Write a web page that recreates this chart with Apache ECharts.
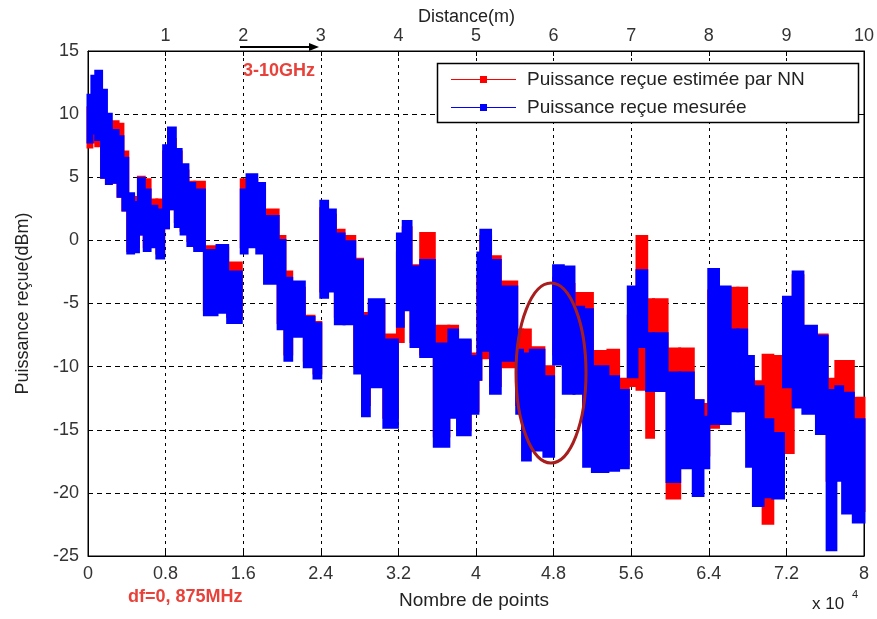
<!DOCTYPE html>
<html><head><meta charset="utf-8">
<script src="https://cdn.jsdelivr.net/npm/echarts@6/dist/echarts.min.js"></script>
<style>html,body{margin:0;padding:0;background:#fff}#c{width:877px;height:619px}</style>
</head><body><div id="c"></div>
<script>
// segment edges along "Nombre de points" (x 10^4)
const xEdges = [0,0.04,0.08,0.14,0.19,0.24,0.31,0.36,0.41,0.47,0.52,0.58,0.64,0.71,0.78,0.83,0.90,0.96,1.03,1.10,1.20,1.33,1.44,1.58,1.64,1.74,1.82,1.96,2.03,2.10,2.23,2.33,2.40,2.47,2.55,2.64,2.75,2.83,2.90,3.05,3.19,3.25,3.33,3.43,3.57,3.72,3.81,3.94,4.02,4.05,4.15,4.25,4.42,4.48,4.56,4.70,4.80,4.90,5.01,5.11,5.20,5.36,5.47,5.57,5.66,5.76,5.83,5.97,6.10,6.24,6.34,6.40,6.50,6.62,6.70,6.79,6.86,6.96,7.06,7.17,7.27,7.37,7.51,7.62,7.71,7.78,7.89,8.00];
// measured (blue) envelope, dBm
const blueHi = [11.5,13.0,13.4,11.9,10.0,8.7,8.2,6.5,3.7,3.0,4.9,4.0,2.7,2.4,7.5,8.9,7.2,6.0,4.5,4.0,-0.8,-0.4,-2.5,4.0,5.2,4.5,1.9,0.0,-3.0,-3.3,-6.1,-6.6,3.1,2.4,0.5,-0.1,-1.6,-6.0,-4.7,-7.9,0.5,1.5,-2.1,-1.6,-8.2,-7.1,-7.9,-9.2,-1.0,0.8,-1.6,-3.7,-8.7,-9.0,-8.7,-10.8,-2.0,-2.1,-5.3,-5.5,-10.0,-10.8,-11.9,-3.7,-2.4,-7.4,-7.4,-10.5,-10.5,-12.7,-14.0,-2.3,-3.7,-7.1,-7.1,-9.2,-11.6,-14.2,-15.3,-4.5,-2.5,-6.8,-7.6,-11.9,-11.6,-12.1,-14.2];
const blueLo = [7.8,8.5,8.0,5.0,4.5,4.6,3.5,2.4,-1.0,-0.9,0.5,-0.8,-0.5,-1.4,1.0,2.5,1.1,0.5,-0.4,-0.8,-5.9,-5.7,-6.5,-1.0,-0.5,-1.0,-3.4,-7.0,-9.5,-7.6,-10.0,-10.9,-4.5,-4.0,-6.6,-6.6,-10.5,-13.9,-11.6,-14.8,-6.8,-5.5,-8.4,-9.2,-16.3,-14.0,-15.4,-13.7,-11.0,-8.7,-12.1,-9.5,-13.7,-17.4,-16.6,-17.1,-9.8,-12.1,-12.1,-17.9,-18.3,-18.2,-18.0,-10.8,-8.4,-11.9,-11.9,-19.1,-18.0,-20.2,-18.0,-14.5,-14.5,-13.5,-13.5,-17.9,-21.0,-20.3,-20.4,-11.6,-13.2,-13.7,-15.3,-24.5,-19.0,-21.6,-22.3];
// NN estimate (red) envelope, dBm
const redHi = [10.5,10.3,10.0,9.0,8.8,9.4,9.2,7.0,3.5,3.4,5.0,4.8,3.2,3.2,7.0,8.0,7.0,5.5,4.6,4.6,-0.5,-0.6,-1.8,4.8,4.8,4.0,2.4,0.3,-2.5,-3.8,-6.0,-6.5,2.5,2.0,0.8,0.3,-1.5,-5.8,-5.0,-7.5,-1.0,1.0,-2.0,0.55,-6.8,-6.8,-8.0,-9.0,-3.0,0.3,-1.3,-3.3,-7.1,-7.1,-8.5,-10.0,-3.0,-3.5,-4.2,-4.2,-8.8,-8.7,-11.0,-6.0,0.3,-4.7,-4.7,-8.6,-8.6,-12.7,-13.0,-4.0,-6.0,-3.8,-3.8,-11.0,-11.2,-9.1,-9.2,-5.0,-2.8,-7.9,-7.5,-11.0,-9.6,-9.6,-12.5];
const redLo = [7.4,7.8,7.5,5.0,4.5,4.6,3.5,2.4,-0.8,-0.5,0.5,-0.5,-0.3,-1.0,1.0,2.5,1.5,0.8,0.0,-0.5,-5.5,-5.4,-6.0,-0.5,0.0,-0.5,-3.0,-6.5,-9.0,-7.5,-9.5,-10.5,-4.0,-3.5,-6.0,-6.3,-10.0,-13.0,-11.0,-14.0,-8.0,-5.0,-8.0,-9.0,-15.5,-13.5,-15.0,-13.5,-11.0,-9.3,-11.5,-10.0,-13.0,-15.0,-15.0,-14.0,-9.0,-10.0,-11.0,-15.0,-16.0,-17.6,-17.7,-11.5,-11.8,-15.6,-11.5,-20.4,-17.0,-17.0,-17.0,-14.8,-13.0,-11.0,-12.0,-15.0,-17.0,-22.4,-18.5,-16.8,-13.0,-13.0,-14.0,-19.0,-18.0,-16.0,-21.4];

const legendNames = ['Puissance reçue estimée par NN', 'Puissance reçue mesurée'];
const FONT = 'Liberation Sans, Arial, sans-serif';

function segData(hi, lo) {
  return hi.map((h, i) => [xEdges[i], xEdges[i + 1], lo[i], h]);
}
function bandSeries(name, color, hi, lo) {
  return {
    type: 'custom', name: name, xAxisIndex: 0, yAxisIndex: 0,
    data: segData(hi, lo),
    encode: { x: [0, 1], y: [2, 3] },
    itemStyle: { color: color },
    renderItem: function (params, api) {
      const a = api.coord([api.value(0), api.value(3)]);
      const b = api.coord([api.value(1), api.value(2)]);
      return { type: 'rect', shape: { x: a[0], y: a[1], width: b[0] - a[0], height: b[1] - a[1] },
        style: { fill: color, stroke: color, lineWidth: 3 } };
    }
  };
}
const fmt = v => String(Number(v.toFixed(2)));
const chart = echarts.init(document.getElementById('c'), null, { renderer: 'canvas' });
const LEGEND_ICON = 'path://M0,4.5 L65,4.5 L65,5.5 L0,5.5 Z M29,1.5 L36,1.5 L36,8.5 L29,8.5 Z';
chart.setOption({
  animation: false,
  backgroundColor: '#fff',
  grid: { left: 88, right: 11, top: 51, bottom: 63, show: true, borderColor: '#000', borderWidth: 1, backgroundColor: 'transparent' },
  legend: {
    data: [{ name: legendNames[0], icon: LEGEND_ICON }, { name: legendNames[1], icon: LEGEND_ICON }],
    orient: 'vertical', left: 451, top: 70, itemWidth: 65, itemHeight: 7, itemGap: 9,
    padding: 0, z: 20,
    textStyle: { fontFamily: FONT, fontSize: 19, color: '#222', padding: [0, 0, 0, 6] }
  },
  xAxis: [
    { type: 'value', min: 0, max: 8, interval: 0.8, position: 'bottom',
      name: 'Nombre de points', nameLocation: 'middle', nameGap: 35,
      nameTextStyle: { fontFamily: FONT, fontSize: 19, color: '#222', padding: [0, 4, 0, 0] },
      axisLine: { show: true, onZero: false, lineStyle: { color: '#000' } },
      axisTick: { show: true, inside: true, length: 5, lineStyle: { color: '#000' } },
      axisLabel: { formatter: fmt, fontFamily: FONT, fontSize: 18, color: '#333', margin: 9 },
      splitLine: { show: true, lineStyle: { color: '#000', type: [3, 4], width: 1 } } },
    { type: 'value', min: 0, max: 10, interval: 1, position: 'top',
      axisLine: { show: true, onZero: false, lineStyle: { color: '#000' } },
      axisTick: { show: true, inside: true, length: 5, lineStyle: { color: '#000' } },
      axisLabel: { formatter: v => v === 0 ? '' : String(v), fontFamily: FONT, fontSize: 18, color: '#333', margin: 6 },
      splitLine: { show: false } }
  ],
  yAxis: [
    { type: 'value', min: -25, max: 15, interval: 5, position: 'left',
      name: 'Puissance reçue(dBm)', nameLocation: 'middle', nameGap: 56,
      nameTextStyle: { fontFamily: FONT, fontSize: 18, color: '#222' },
      axisLine: { show: true, onZero: false, lineStyle: { color: '#000' } },
      axisTick: { show: true, inside: true, length: 5, lineStyle: { color: '#000' } },
      axisLabel: { fontFamily: FONT, fontSize: 18, color: '#333', margin: 9 },
      splitLine: { show: true, lineStyle: { color: '#000', type: [5, 4], width: 1 } } },
    { type: 'value', min: -25, max: 15, interval: 5, position: 'right',
      axisLine: { show: true, onZero: false, lineStyle: { color: '#000' } },
      axisTick: { show: true, inside: true, length: 5, lineStyle: { color: '#000' } },
      axisLabel: { show: false }, splitLine: { show: false } }
  ],
  series: [
    bandSeries(legendNames[0], '#ff0000', redHi, redLo),
    bandSeries(legendNames[1], '#0000ff', blueHi, blueLo)
  ],
  graphic: [
    { type: 'rect', shape: { x: 437.5, y: 63.5, width: 421, height: 59 }, style: { fill: '#fff', stroke: '#000', lineWidth: 1.5 }, z: 10 },
    { type: 'ellipse', shape: { cx: 551, cy: 373, rx: 35, ry: 90 }, style: { fill: 'none', stroke: '#a81e1e', lineWidth: 3 }, z: 100 },
    { type: 'line', shape: { x1: 240, y1: 47, x2: 314, y2: 47 }, style: { stroke: '#000', lineWidth: 2 }, z: 100 },
    { type: 'polygon', shape: { points: [[319, 47], [309, 43], [309, 51]] }, style: { fill: '#000' }, z: 100 },
    { type: 'text', left: 418, top: 8, style: { text: 'Distance(m)', fill: '#222', font: '18px ' + FONT }, z: 100 },
    { type: 'text', left: 243, top: 62, style: { text: '3-10GHz', fill: '#e8413a', font: 'bold 18px ' + FONT }, z: 100 },
    { type: 'text', left: 128, top: 588, style: { text: 'df=0, 875MHz', fill: '#e8413a', font: 'bold 18px ' + FONT }, z: 100 },
    { type: 'text', left: 812, top: 596, style: { text: 'x 10', fill: '#222', font: '17px ' + FONT }, z: 100 },
    { type: 'text', left: 852, top: 589, style: { text: '4', fill: '#222', font: '11px ' + FONT }, z: 100 }
  ]
});
</script></body></html>
